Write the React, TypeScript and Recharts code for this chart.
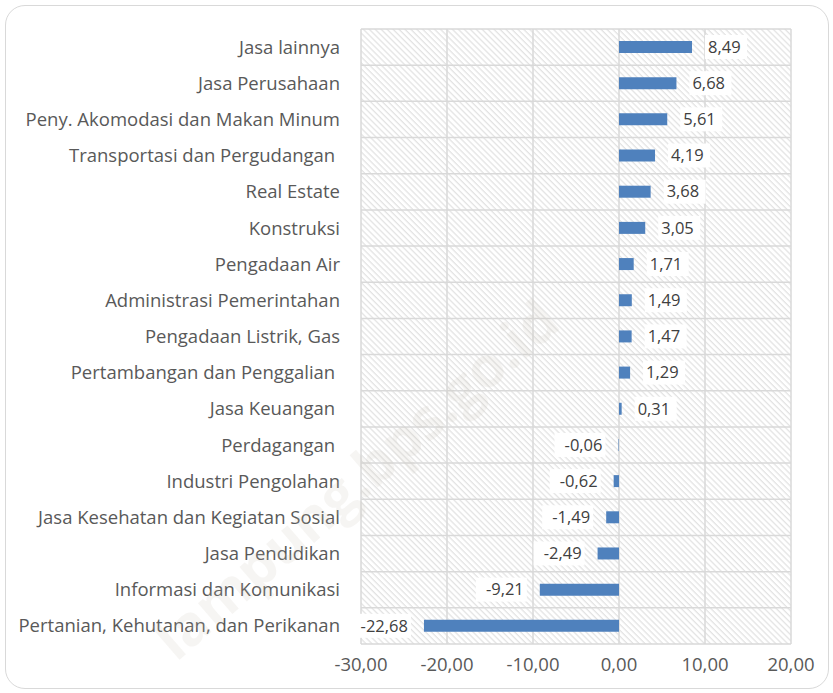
import { BarChart, Bar, XAxis, YAxis, CartesianGrid, LabelList } from "recharts";

const sectors = [
  "Jasa lainnya",
  "Jasa Perusahaan",
  "Peny. Akomodasi dan Makan Minum",
  "Transportasi dan Pergudangan\u00a0",
  "Real Estate",
  "Konstruksi",
  "Pengadaan Air",
  "Administrasi Pemerintahan",
  "Pengadaan Listrik, Gas",
  "Pertambangan dan Penggalian\u00a0",
  "Jasa Keuangan\u00a0",
  "Perdagangan\u00a0",
  "Industri Pengolahan",
  "Jasa Kesehatan dan Kegiatan Sosial",
  "Jasa Pendidikan",
  "Informasi dan Komunikasi",
  "Pertanian, Kehutanan, dan Perikanan",
];
const growth = [8.49, 6.68, 5.61, 4.19, 3.68, 3.05, 1.71, 1.49, 1.47, 1.29, 0.31, -0.06, -0.62, -1.49, -2.49, -9.21, -22.68];
const xTicks = [-30, -20, -10, 0, 10, 20];

const data = sectors.map((name, i) => ({ name, value: growth[i] }));

const fmt = (v: number) => v.toFixed(2).replace(".", ",");
const FONT = "'Open Sans', Lato, sans-serif";

const ValueLabel = (props: any) => {
  const { x, y, width, height, value } = props;
  const left = Math.min(x, x + width);
  const right = Math.max(x, x + width);
  const text = fmt(value);
  const w = text.length * 9 + 6;
  const cy = y + height / 2;
  const neg = value < 0;
  const tx = neg ? left - 16 : right + 16;
  const bx = neg ? tx - w + 3 : tx - 3;
  return (
    <g>
      <rect x={bx} y={cy - 12} width={w} height={24} fill="#fff" />
      <text
        x={tx}
        y={cy}
        dy="0.35em"
        textAnchor={neg ? "end" : "start"}
        fontSize={16.5}
        fontFamily={FONT}
        fill="#404040"
      >
        {text}
      </text>
    </g>
  );
};

export default function App() {
  return (
    <div style={{ position: "relative", width: 833, height: 693, background: "#fff" }}>
      <style>{"body{margin:0}"}</style>
      <div
        style={{
          position: "absolute",
          left: 5,
          top: 5,
          width: 822,
          height: 682,
          border: "1.5px solid #d9d9d9",
          borderRadius: 20,
        }}
      />
      <BarChart
        width={833}
        height={693}
        data={data}
        layout="vertical"
        margin={{ top: 29, right: 42, left: 0, bottom: 19 }}
        barSize={12}
      >
        <defs>
          <pattern id="hatch" patternUnits="userSpaceOnUse" width={4.2} height={4.2} patternTransform="rotate(-45)">
            <line x1={1} y1={0} x2={1} y2={4.2} stroke="#dedede" strokeWidth={1.1} />
          </pattern>
        </defs>
        <CartesianGrid
          fill="url(#hatch)"
          stroke="#d9d9d9"
          strokeWidth={1.5}
          horizontalCoordinatesGenerator={({ offset }: any) =>
            sectors.map((_, i) => offset.top + (offset.height * i) / sectors.length).concat(offset.top + offset.height)
          }
        />
        <XAxis
          type="number"
          domain={[-30, 20]}
          ticks={xTicks}
          tickFormatter={fmt}
          axisLine={false}
          tickLine={false}
          tickSize={0}
          tickMargin={14}
          height={30}
          tick={{ fill: "#595959", fontSize: 18.5, fontFamily: FONT }}
        />
        <YAxis
          type="category"
          dataKey="name"
          width={361}
          axisLine={false}
          tickLine={false}
          tickSize={0}
          tickMargin={21}
          interval={0}
          tick={{ fill: "#595959", fontSize: 18.5, fontFamily: FONT }}
        />
        <Bar dataKey="value" fill="#4f81bd" isAnimationActive={false}>
          <LabelList dataKey="value" content={ValueLabel} />
        </Bar>
      </BarChart>
      <div
        style={{
          position: "absolute",
          left: 355,
          top: 478,
          transform: "translate(-50%, -50%) rotate(-41deg)",
          fontFamily: FONT,
          fontWeight: 700,
          fontSize: 56,
          color: "rgba(200,190,180,0.16)",
          whiteSpace: "nowrap",
          pointerEvents: "none",
        }}
      >
        lampung.bps.go.id
      </div>
    </div>
  );
}
